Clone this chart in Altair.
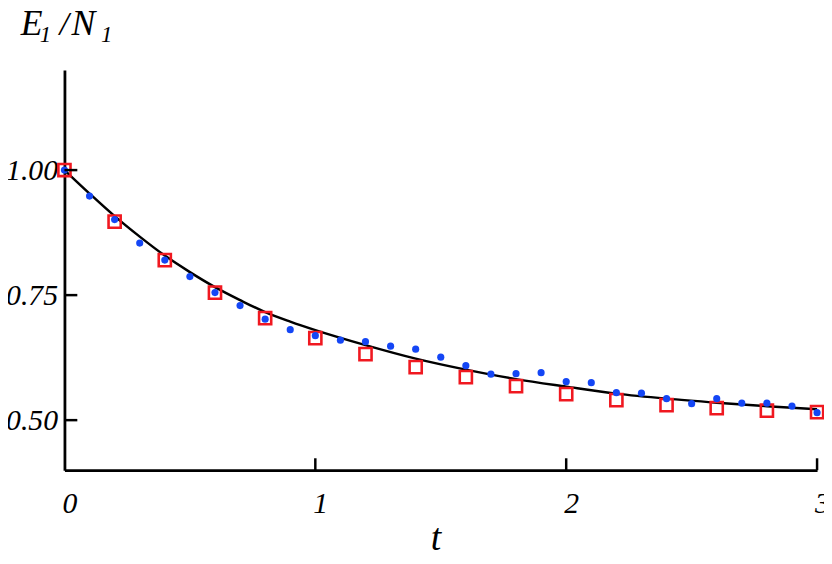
import altair as alt
import pandas as pd

# ---- data ----
t_dots = [round(0.1 * i, 1) for i in range(31)]
e_dots = [1.000, 0.948, 0.901, 0.854, 0.820, 0.787, 0.755, 0.729, 0.702, 0.681,
          0.669, 0.660, 0.657, 0.648, 0.642, 0.626, 0.609, 0.592, 0.593, 0.595,
          0.577, 0.575, 0.555, 0.554, 0.543, 0.533, 0.543, 0.534, 0.534, 0.528, 0.515]

t_squares = [round(0.2 * i, 1) for i in range(16)]
e_squares = [1.000, 0.897, 0.820, 0.755, 0.704, 0.664, 0.632, 0.606, 0.586, 0.568,
             0.552, 0.540, 0.530, 0.524, 0.519, 0.516]

t_curve = [0.0, 0.1, 0.2, 0.3, 0.4, 0.5, 0.6, 0.7, 0.8, 0.9, 1.0,
           1.2, 1.4, 1.6, 1.8, 2.0, 2.2, 2.4, 2.6, 2.8, 3.0]
e_curve = [1.000, 0.953, 0.908, 0.867, 0.829, 0.796, 0.766, 0.740, 0.716, 0.697, 0.680,
           0.650, 0.623, 0.601, 0.582, 0.567, 0.553, 0.543, 0.535, 0.528, 0.522]

x_ticks = [0, 1, 2, 3]
y_ticks = [0.50, 0.75, 1.00]

dots = pd.DataFrame({"t": t_dots, "e": e_dots})
squares = pd.DataFrame({"t": t_squares, "e": e_squares})
curve = pd.DataFrame({"t": t_curve, "e": e_curve})

W, H = 760, 404
FONT = "Liberation Serif"

xscale = alt.Scale(domain=[0, 3], nice=False, zero=False)
yscale = alt.Scale(domain=[0.4, 1.2], nice=False, zero=False)

x_enc = alt.X("t:Q", scale=xscale, title=None,
              axis=alt.Axis(values=x_ticks, format="d", labelPadding=19, labelOffset=5,
                            labelBaseline="top", labelFlush=False, grid=False,
                            ticks=False, tickSize=0, domainColor="black",
                            domainWidth=2.8, labelFont=FONT, labelFontStyle="italic",
                            labelFontSize=30, labelColor="black"))
y_enc = alt.Y("e:Q", scale=yscale, title=None,
              axis=alt.Axis(values=y_ticks, format=".2f", labelPadding=7,
                            labelAlign="right", labelBaseline="middle", grid=False,
                            ticks=False, tickSize=0, domainColor="black",
                            domainWidth=2.8, labelFont=FONT, labelFontStyle="italic",
                            labelFontSize=30, labelColor="black"))

line = alt.Chart(curve).mark_line(color="black", strokeWidth=2.5,
                                  interpolate="monotone").encode(x=x_enc, y=y_enc)

sq = alt.Chart(squares).mark_point(shape="square", filled=False, color="#f01820",
                                   strokeWidth=2.6, size=150, opacity=1).encode(
    x="t:Q", y="e:Q")

dt = alt.Chart(dots).mark_circle(color="#1446f5", size=52, opacity=1).encode(
    x="t:Q", y="e:Q")

xt = alt.Chart(pd.DataFrame({"t": x_ticks[1:]})).mark_rule(
    color="black", strokeWidth=2.5).encode(
    x="t:Q", y=alt.value(H), y2=alt.value(H - 12))

yt = alt.Chart(pd.DataFrame({"e": y_ticks})).mark_rule(
    color="black", strokeWidth=2.5).encode(
    y="e:Q", x=alt.value(0), x2=alt.value(13))


def label(txt, x, y, size):
    return alt.Chart(alt.Data(values=[{}])).mark_text(
        text=txt, font=FONT, fontStyle="italic", fontSize=size, color="black",
        align="left", baseline="alphabetic").encode(
        x=alt.value(x), y=alt.value(y))


title_layers = [
    label("E", -44, -35, 36),
    label("1", -25, -28, 23),
    label("/", -5, -35, 34),
    label("N", 7, -35, 36),
    label("1", 37, -28, 23),
    label("t", 370, 485, 38),
]

chart = alt.layer(line, sq, dt, xt, yt, *title_layers).properties(
    width=W, height=H,
    background="white",
    autosize=alt.AutoSizeParams(type="none"),
    padding={"left": 57, "top": 60, "right": 7, "bottom": 84},
).configure_view(stroke=None)

chart.save("out.html", embed_options={"renderer": "svg", "actions": False})
